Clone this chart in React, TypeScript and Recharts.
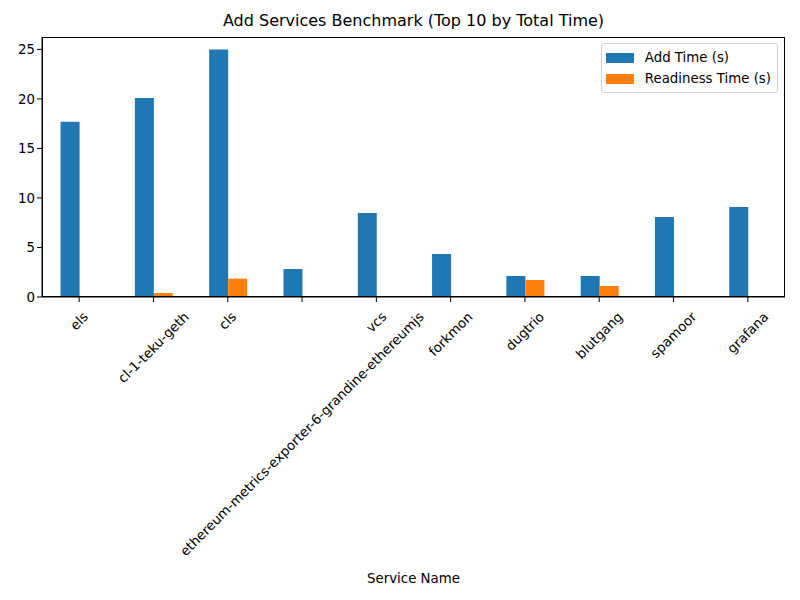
import { BarChart, Bar, XAxis, YAxis } from 'recharts'

const services = [
  'els',
  'cl-1-teku-geth',
  'cls',
  'ethereum-metrics-exporter-6-grandine-ethereumjs',
  'vcs',
  'forkmon',
  'dugtrio',
  'blutgang',
  'spamoor',
  'grafana',
]
const addTime = [17.7, 20.1, 25.0, 2.83, 8.48, 4.34, 2.12, 2.12, 8.07, 9.08]
const readinessTime = [0, 0.4, 1.85, 0, 0, 0, 1.72, 1.11, 0, 0]
const yTicks = [0, 5, 10, 15, 20, 25]

const data = services.map((name, i) => ({
  name,
  add: addTime[i],
  ready: readinessTime[i],
}))

const FONT = 'DejaVu Sans, sans-serif'
const FS = 13.33

let ctx: CanvasRenderingContext2D | null = null
const measure = (s: string) => {
  if (!ctx) ctx = document.createElement('canvas').getContext('2d')
  if (!ctx) return s.length * 7.4
  ctx.font = `${FS}px "DejaVu Sans"`
  return ctx.measureText(s).width
}

// matplotlib-style label: rotated 45deg, bounding box centred under the tick
const RotatedTick = ({ x, y, payload }: { x?: number; y?: number; payload?: { value: string } }) => {
  const label = payload?.value ?? ''
  const L = measure(label)
  const h = 15.5
  const cx = x ?? 0
  const cy = (y ?? 0) + 5 + ((L + h) * Math.SQRT1_2) / 2
  return (
    <text
      x={cx}
      y={cy}
      textAnchor="middle"
      dominantBaseline="central"
      transform={`rotate(-45, ${cx}, ${cy})`}
      fontFamily={FONT}
      fontSize={FS}
      fill="#000"
    >
      {label}
    </text>
  )
}

const legendItems = [
  { label: 'Add Time (s)', color: '#1f77b4' },
  { label: 'Readiness Time (s)', color: '#ff7f0e' },
]

export default function App() {
  return (
    <div style={{ position: 'absolute', left: 0, top: 0, width: 800, height: 600, background: '#fff' }}>
      <div
        style={{
          position: 'absolute',
          left: 42,
          width: 743,
          top: 11,
          textAlign: 'center',
          fontFamily: FONT,
          fontSize: 16,
          color: '#000',
        }}
      >
        Add Services Benchmark (Top 10 by Total Time)
      </div>
      <BarChart
        width={800}
        height={600}
        data={data}
        margin={{ top: 37, right: 15, left: 0, bottom: 0 }}
        barCategoryGap="25%"
        barGap={0}
      >
        <XAxis
          dataKey="name"
          interval={0}
          height={303}
          tickSize={5}
          tickLine={{ stroke: '#000' }}
          axisLine={{ stroke: '#000' }}
          tick={<RotatedTick />}
          label={{
            value: 'Service Name',
            position: 'insideBottom',
            offset: 17,
            fill: '#000',
            fontFamily: FONT,
            fontSize: FS,
          }}
        />
        <YAxis
          width={42}
          domain={[0, 26.25]}
          ticks={yTicks}
          tickSize={5}
          tickLine={{ stroke: '#000' }}
          axisLine={{ stroke: '#000' }}
          tick={{ fill: '#000', fontFamily: FONT, fontSize: FS }}
          allowDataOverflow
        />
        <Bar dataKey="add" name="Add Time (s)" fill="#1f77b4" isAnimationActive={false} />
        <Bar dataKey="ready" name="Readiness Time (s)" fill="#ff7f0e" isAnimationActive={false} />
      </BarChart>
      {/* axes frame */}
      <div
        style={{
          position: 'absolute',
          left: 41.5,
          top: 36.5,
          width: 743,
          height: 260,
          border: '1px solid #000',
          boxSizing: 'border-box',
          pointerEvents: 'none',
        }}
      />
      <div
        style={{
          position: 'absolute',
          right: 22,
          top: 43,
          border: '1px solid #d0d0d0',
          borderRadius: 3,
          background: 'rgba(255,255,255,0.8)',
          padding: '3px 6px 3px 4px',
          fontFamily: FONT,
          fontSize: FS,
          color: '#000',
        }}
      >
        {legendItems.map((it) => (
          <div key={it.label} style={{ display: 'flex', alignItems: 'center', height: 21 }}>
            <span style={{ width: 28, height: 10, background: it.color, marginRight: 11 }} />
            <span>{it.label}</span>
          </div>
        ))}
      </div>
    </div>
  )
}
